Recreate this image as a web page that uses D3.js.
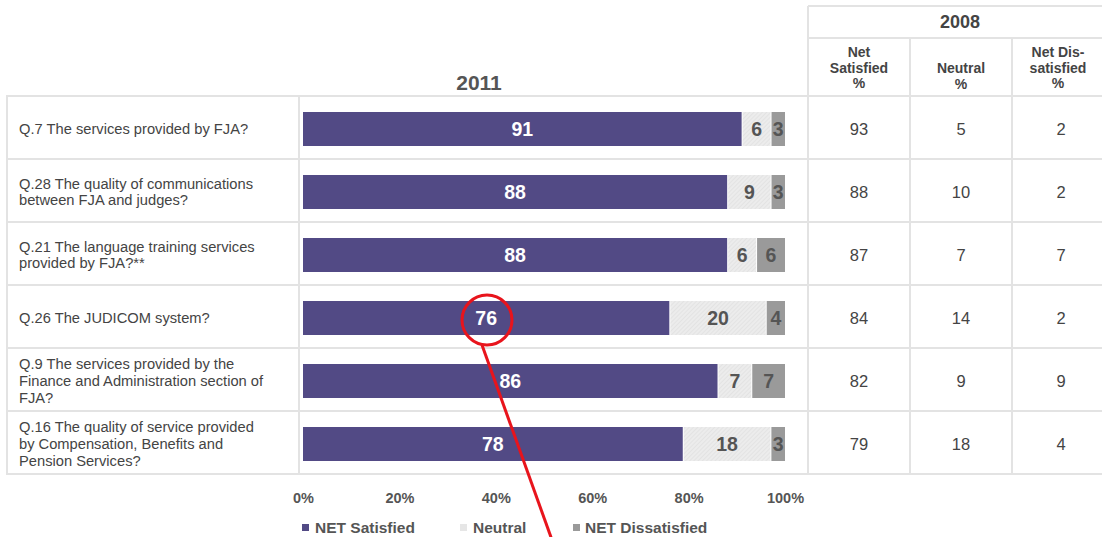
<!DOCTYPE html>
<html><head><meta charset="utf-8">
<script src="https://cdn.jsdelivr.net/npm/d3@7"></script>
<style>body{margin:0;background:#fff}svg{display:block;font-family:"Liberation Sans",Arial,sans-serif}</style>
</head><body>
<svg id="c" width="1102" height="537"></svg>
<script>
const categories = [
  ["Q.7 The services provided by FJA?"],
  ["Q.28 The quality of communications", "between FJA and judges?"],
  ["Q.21 The language training services", "provided by FJA?**"],
  ["Q.26 The JUDICOM system?"],
  ["Q.9 The services provided by the", "Finance and Administration section of", "FJA?"],
  ["Q.16 The quality of service provided", "by Compensation, Benefits and", "Pension Services?"]
];
const seriesNames = ["NET Satisfied", "Neutral", "NET Dissatisfied"];
const satisfied2011 = [91, 88, 88, 76, 86, 78];
const neutral2011 = [6, 9, 6, 20, 7, 18];
const dissatisfied2011 = [3, 3, 6, 4, 7, 3];
const satisfied2008 = [93, 88, 87, 84, 82, 79];
const neutral2008 = [5, 10, 7, 14, 9, 18];
const dissatisfied2008 = [2, 2, 7, 2, 9, 4];
const xTicks = [0, 0.2, 0.4, 0.6, 0.8, 1];
const header2008 = [["Net", "Satisfied", "%"], ["Neutral", "%"], ["Net Dis-", "satisfied", "%"]];

const svg = d3.select("#c");
const grid = "#e3e3e3";
const txt = "#444";
const colors = ["#524a85", "url(#hatch)", "#9a9a9a"];

const defs = svg.append("defs");
const pat = defs.append("pattern").attr("id", "hatch").attr("patternUnits", "userSpaceOnUse")
  .attr("width", 3).attr("height", 3).attr("patternTransform", "rotate(45)");
pat.append("rect").attr("width", 3).attr("height", 3).attr("fill", "#ececec");
pat.append("line").attr("x1", 0).attr("y1", 0).attr("x2", 0).attr("y2", 3).attr("stroke", "#dadada").attr("stroke-width", 1);

const y = d3.scaleBand().domain(d3.range(categories.length)).range([96, 474]).paddingInner(0).paddingOuter(0);
const x = d3.scaleLinear().domain([0, 1]).range([303, 785]);

// grid lines of left table
const gL = svg.append("g").attr("stroke", grid).attr("stroke-width", 2);
d3.range(categories.length + 1).forEach(i => {
  const yy = i < categories.length ? y(i) : y.range()[1];
  gL.append("line").attr("x1", 6).attr("x2", 808).attr("y1", yy).attr("y2", yy);
});
gL.append("line").attr("x1", 7).attr("x2", 7).attr("y1", 96).attr("y2", 474);
gL.append("line").attr("x1", 299).attr("x2", 299).attr("y1", 96).attr("y2", 474);

// right table
const colX = [808, 910, 1012, 1114];
const gR = svg.append("g").attr("stroke", grid).attr("stroke-width", 2);
[6, 38, 96].forEach(yy => gR.append("line").attr("x1", 808).attr("x2", 1102).attr("y1", yy).attr("y2", yy));
d3.range(categories.length).forEach(i => gR.append("line").attr("x1", 808).attr("x2", 1102).attr("y1", y(i) + y.bandwidth()).attr("y2", y(i) + y.bandwidth()));
gR.append("line").attr("x1", 808).attr("x2", 808).attr("y1", 6).attr("y2", 474);
[910, 1012].forEach(xx => gR.append("line").attr("x1", xx).attr("x2", xx).attr("y1", 38).attr("y2", 474));

svg.append("text").attr("x", 960).attr("y", 28).attr("text-anchor", "middle")
  .attr("font-size", 18).attr("font-weight", "bold").attr("fill", txt).text("2008");
header2008.forEach((lines, c) => {
  const cx = (colX[c] + colX[c + 1]) / 2 - (c === 2 ? 5 : 0);
  const startY = lines.length === 3 ? 57 : 73;
  lines.forEach((l, k) => svg.append("text").attr("x", cx).attr("y", startY + k * 15.5)
    .attr("text-anchor", "middle").attr("font-size", 14).attr("font-weight", "bold").attr("fill", txt).text(l));
});
const table2008 = [satisfied2008, neutral2008, dissatisfied2008];
table2008.forEach((arr, c) => {
  const cx = (colX[c] + colX[c + 1]) / 2 - (c === 2 ? 2 : 0);
  arr.forEach((v, i) => svg.append("text").attr("x", cx).attr("y", y(i) + y.bandwidth() / 2 + 7)
    .attr("text-anchor", "middle").attr("font-size", 16.5).attr("fill", txt).text(v));
});

svg.append("text").attr("x", 479).attr("y", 90).attr("text-anchor", "middle")
  .attr("font-size", 21).attr("font-weight", "bold").attr("fill", "#555").text("2011");

// category labels
categories.forEach((lines, i) => {
  const cy = y(i) + y.bandwidth() / 2;
  const lh = 16.7;
  const y0 = cy - (lines.length - 1) * lh / 2 + 6.5;
  lines.forEach((l, k) => svg.append("text").attr("x", 19).attr("y", y0 + k * lh)
    .attr("font-size", 14.7).attr("fill", txt).text(l));
});

// stacked bars (normalized)
const rows = categories.map((c, i) => ({i, s: satisfied2011[i], n: neutral2011[i], d: dissatisfied2011[i]}));
const stack = d3.stack().keys(["s", "n", "d"]).offset(d3.stackOffsetExpand);
const layers = stack(rows);
const barH = 34;
layers.forEach((layer, li) => {
  const g = svg.append("g");
  layer.forEach(seg => {
    const i = seg.data.i;
    const by = y(i) + (y.bandwidth() - barH) / 2 + 1.5;
    const x0 = x(seg[0]), x1 = x(seg[1]);
    g.append("rect").attr("x", x0 + (li > 0 ? 1 : 0)).attr("y", by).attr("width", Math.max(0, x1 - x0 - (li > 0 ? 1 : 0))).attr("height", barH)
      .attr("fill", colors[li]);
    g.append("text").attr("x", (x0 + x1) / 2 + (li > 0 ? 0.5 : 0)).attr("y", by + barH / 2 + 7)
      .attr("text-anchor", "middle").attr("font-size", 19.5).attr("font-weight", "bold")
      .attr("fill", li === 0 ? "#fff" : "#555").text(seg.data[layer.key]);
  });
});

// axis
const axis = d3.axisBottom(x).tickValues(xTicks).tickFormat(d3.format(".0%")).tickSize(0).tickPadding(0);
const ax = svg.append("g").attr("transform", "translate(0,492)").call(axis);
ax.select(".domain").remove();
ax.selectAll("text").attr("dy", null).attr("y", 11).attr("font-size", 14.5).attr("font-weight", "bold").attr("fill", "#555")
  .attr("font-family", "Liberation Sans, Arial, sans-serif");

// legend
const legX = [302, 460, 573];
const legText = [315, 473, 585];
const legColors = ["#524a85", "#e6e6e6", "#9a9a9a"];
seriesNames.forEach((n, k) => {
  svg.append("rect").attr("x", legX[k]).attr("y", 524).attr("width", 7).attr("height", 7).attr("fill", legColors[k]);
  svg.append("text").attr("x", legText[k]).attr("y", 533).attr("font-size", 15.5).attr("font-weight", "bold")
    .attr("fill", "#555").text(n);
});

// red annotation
svg.append("circle").attr("cx", 487).attr("cy", 320).attr("r", 25).attr("fill", "none").attr("stroke", "#e8141c").attr("stroke-width", 3);
svg.append("line").attr("x1", 482).attr("y1", 345).attr("x2", 552).attr("y2", 540).attr("stroke", "#e8141c").attr("stroke-width", 3);
</script>
</body></html>
